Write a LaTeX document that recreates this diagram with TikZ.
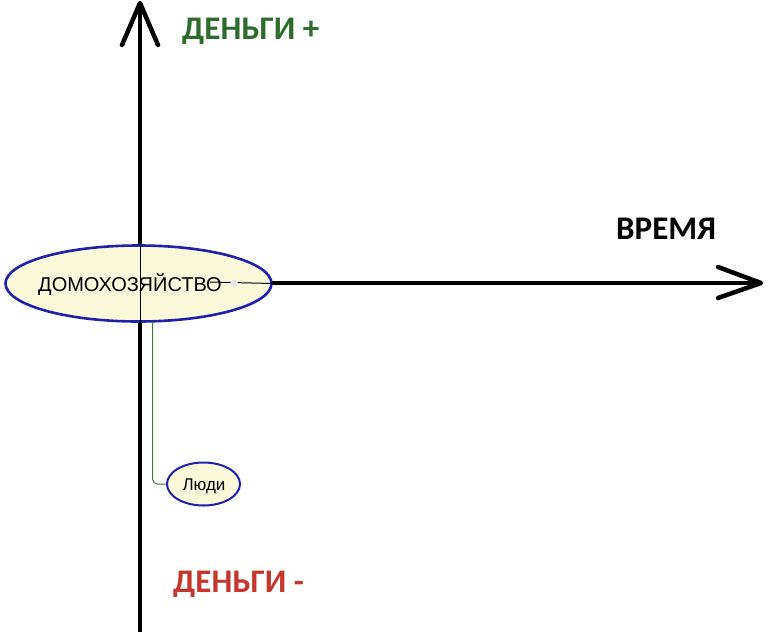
\documentclass[tikz,border=0pt]{standalone}
\usepackage{fontspec}
\setmainfont{Liberation Sans}
\newfontfamily\carlitofont{Carlito}
\usetikzlibrary{shapes.geometric}
\definecolor{mgreen}{RGB}{47,107,47}
\definecolor{mred}{RGB}{196,55,45}
\definecolor{mblue}{RGB}{32,32,170}
\definecolor{mfill}{RGB}{250,250,218}
\definecolor{lnk}{RGB}{70,120,60}
\tikzset{
  axis/.style={line width=4pt, black},
  tip/.style={line width=4.5pt, black, line cap=round, line join=round},
  bubble/.style={ellipse, draw=mblue, fill=mfill, line width=2.6pt, inner sep=0pt},
  lbl/.style={font=\carlitofont\bfseries\fontsize{33}{35}\selectfont, inner sep=0pt},
}
\begin{document}
\begin{tikzpicture}[x=1pt,y=-1pt]
\useasboundingbox (0,0) rectangle (766,635);
% axis end points
\coordinate (vtop) at (140,3);
\coordinate (vbot) at (140,632);
\coordinate (hleft) at (140,283);
\coordinate (hright) at (761,283);
\coordinate (vl) at (122,45);
\coordinate (vr) at (158,45);
\coordinate (hu) at (718,267);
\coordinate (hd) at (718,298);
% thick axes
\draw[axis] (vbot) -- (vtop);
\draw[axis] (hleft) -- (hright);
\draw[tip] (vl) -- (vtop) -- (vr);
\draw[tip] (hu) -- (hright) -- (hd);
% main ellipse
\node[bubble, minimum width=266pt, minimum height=76pt] (hh) at (138.5,283.5) {};
\node[font=\fontsize{20}{22}\selectfont, inner sep=0pt] (hhtext) at (130,284) {ДОМОХОЗЯЙСТВО};
% thin lines over ellipse
\draw[line width=1pt, black] (hh.north -| vtop) -- (hh.south -| vtop);
\draw[line width=1pt, black] (210,282) -- (hh.east);
\fill[black!10] (234,283.5) circle (4pt);
% child
\node[bubble, line width=2pt, minimum width=73pt, minimum height=43pt] (people) at (203.5,484) {};
\node[font=\fontsize{17}{19}\selectfont, inner sep=0pt] (ptext) at (204,486) {Люди};
\coordinate (cstart) at (152.5,322);
\draw[lnk, line width=1pt, rounded corners=5pt] (cstart) |- (people.west);
% labels
\node[lbl, text=mgreen, anchor=west] (plus) at (182,31) {ДЕНЬГИ +};
\node[lbl, text=black, anchor=west] (time) at (616,229) {ВРЕМЯ};
\node[lbl, text=mred, anchor=west] (minus) at (173,584) {ДЕНЬГИ -};
\end{tikzpicture}
\end{document}
